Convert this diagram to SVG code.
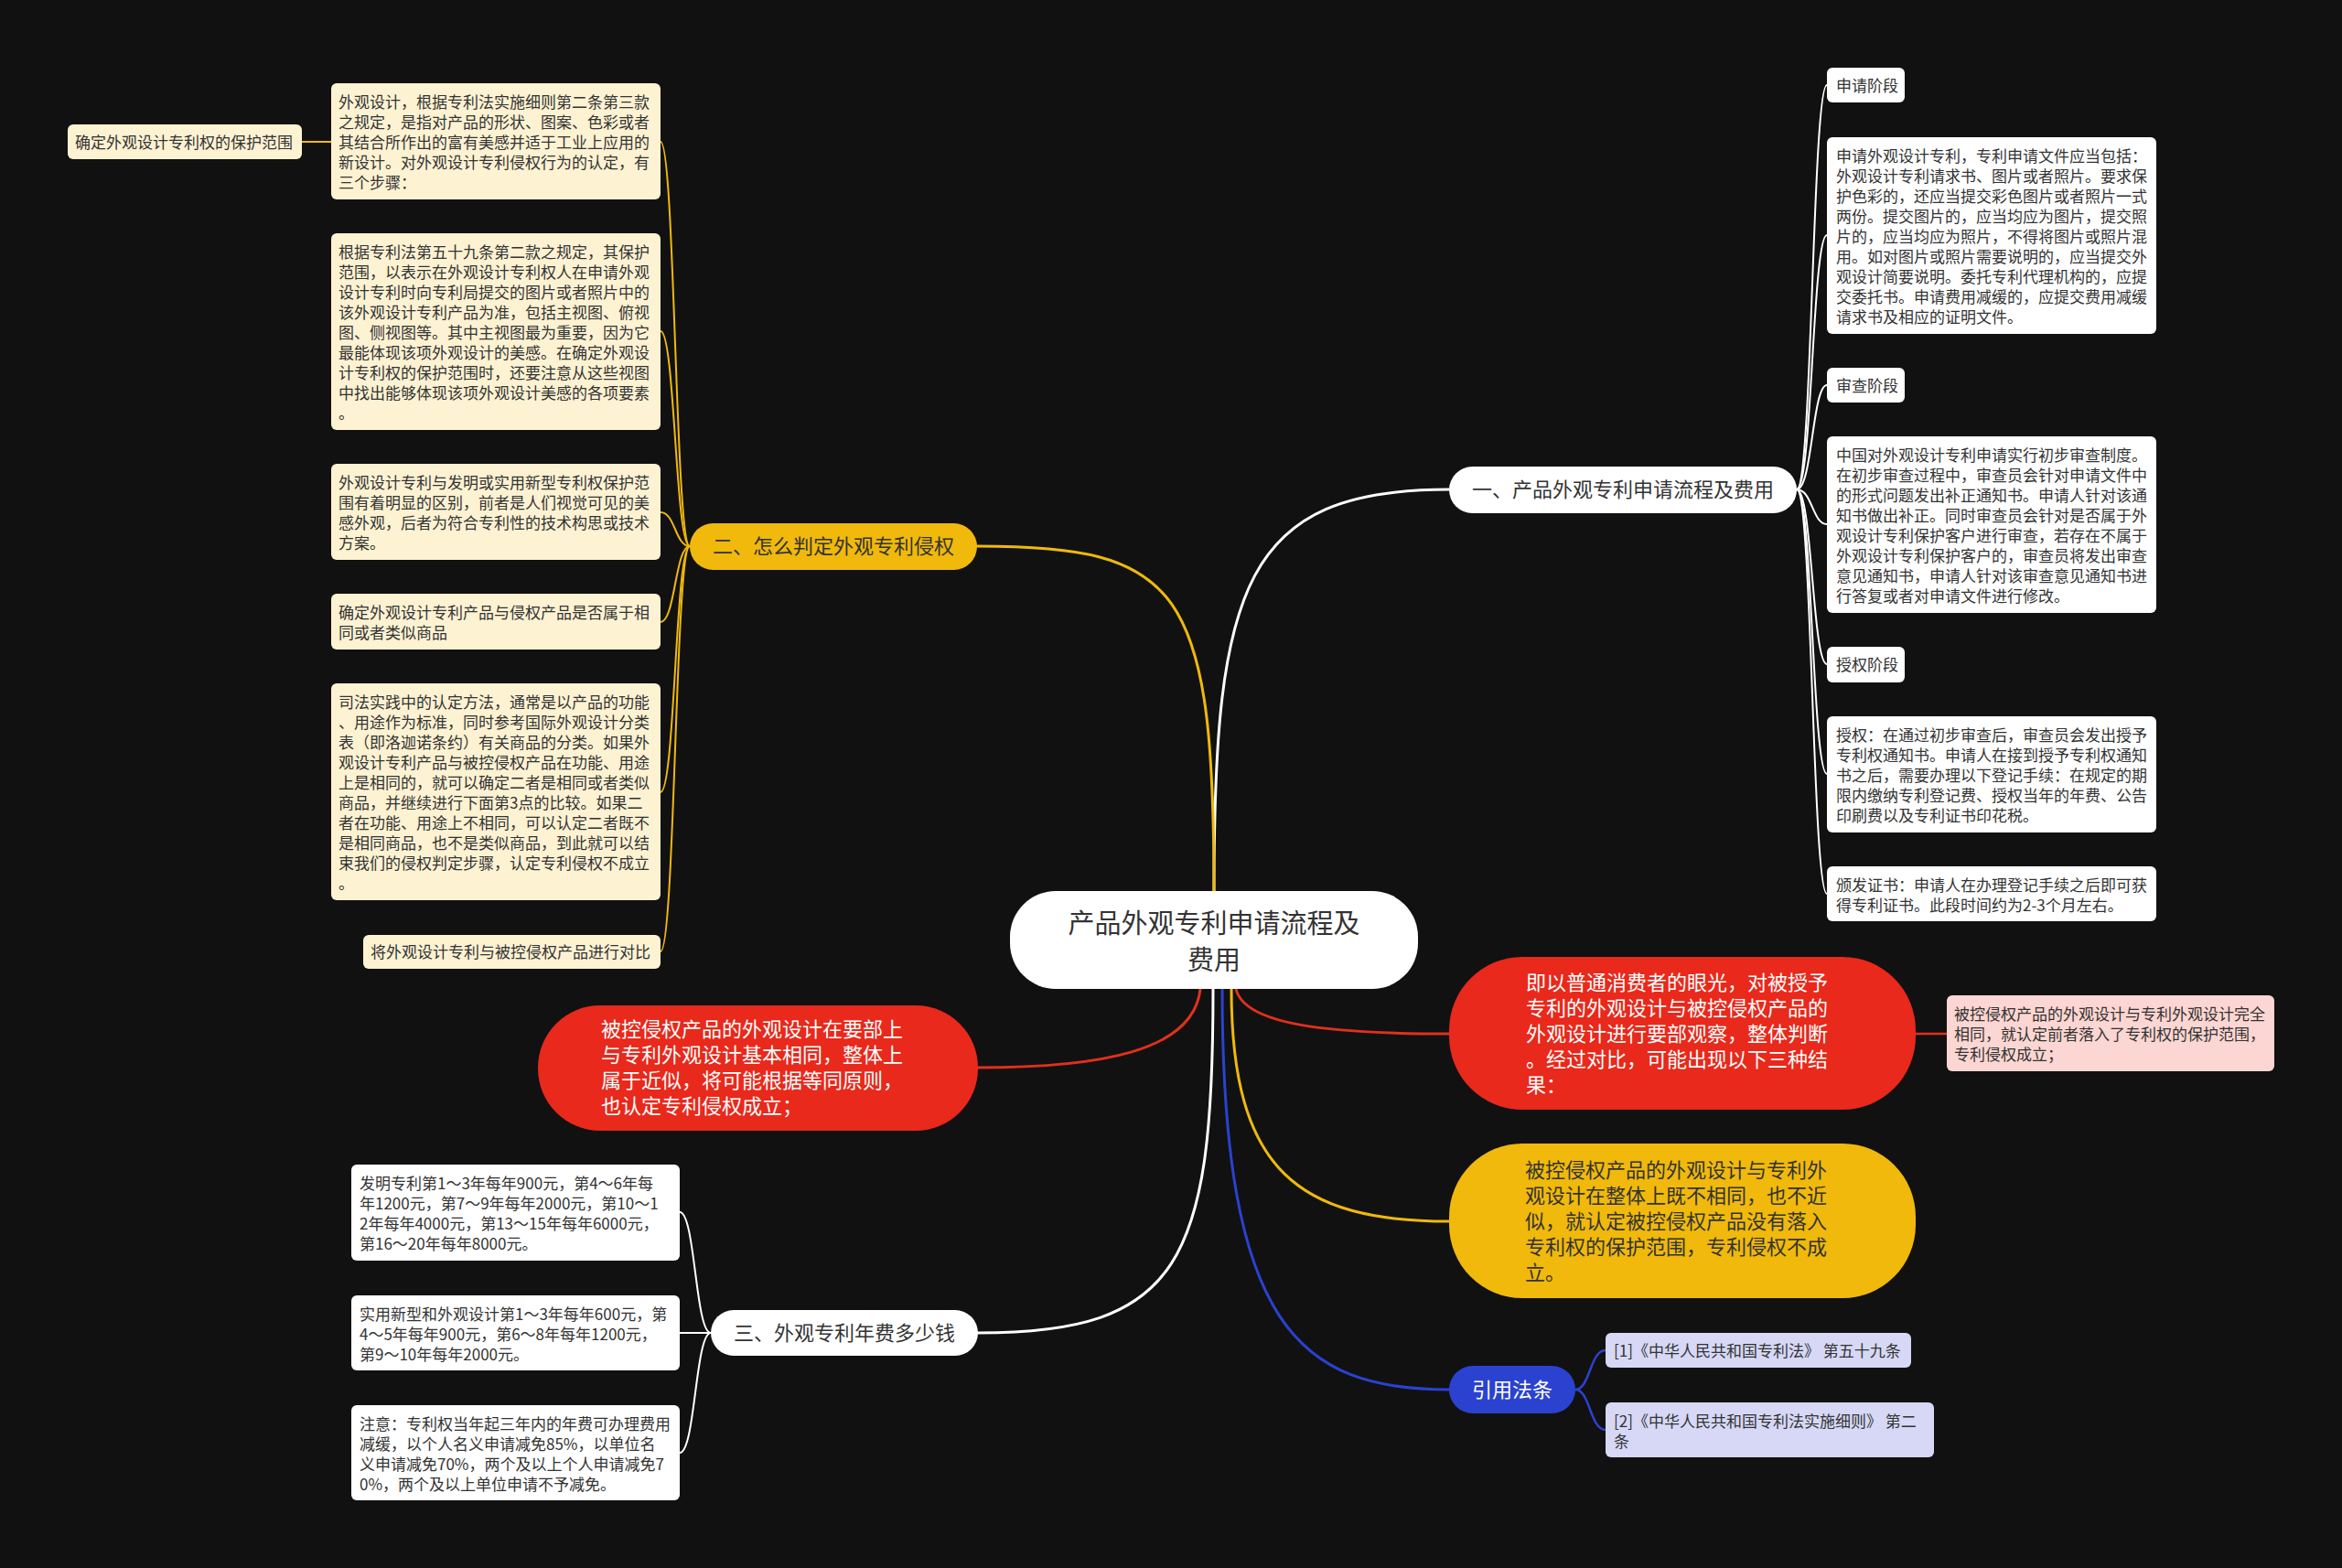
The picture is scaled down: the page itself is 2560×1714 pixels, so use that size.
<svg xmlns="http://www.w3.org/2000/svg" width="2560" height="1714" viewBox="0 0 2560 1714">
<style>
text{font-family:"Noto Sans CJK SC","Noto Sans",sans-serif;}
.t17{font-size:17px;fill:#333333;}
.t22{font-size:22px;fill:#333333;}
.w22{font-size:22px;fill:#ffffff;}
.t30{font-size:29px;fill:#333333;}
.cream{fill:#fdf2d2;}
.white{fill:#ffffff;}
.pink{fill:#fcd6d2;}
.lav{fill:#d6d8f6;}
.c{fill:none;stroke-linecap:round;}
.mw{stroke:#ffffff;stroke-width:3;}
.my{stroke:#f0b90b;stroke-width:3;}
.mr{stroke:#e0301e;stroke-width:3;}
.mb{stroke:#2b42d0;stroke-width:3;}
.lw{stroke:#ffffff;stroke-width:2;}
.ly{stroke:#f0b90b;stroke-width:2;}
.lr{stroke:#e0301e;stroke-width:2.5;}
.lb{stroke:#2b42d0;stroke-width:2.5;}
</style>
<rect x="0" y="0" width="2560" height="1714" fill="#111111"/>

<g id="connectors">
  <path class="c mw" d="M1327,975 C1327,640 1360,535 1584,535"/>
  <path class="c my" d="M1327,975 C1327,640 1290,597 1068,597"/>
  <path class="c mw" d="M1326,1081 C1326,1380 1290,1457 1069,1457"/>
  <path class="c mr" d="M1312,1081 C1305,1150 1200,1167 1069,1167"/>
  <path class="c mr" d="M1351,1081 C1360,1120 1450,1130 1584,1130"/>
  <path class="c my" d="M1346,1081 C1346,1280 1420,1335 1584,1335"/>
  <path class="c mb" d="M1336,1081 C1336,1450 1420,1519 1584,1519"/>
  <path class="c lw" d="M1964,535 C1981,535 1981,93 1997,93"/>
  <path class="c lw" d="M1964,535 C1981,535 1981,257 1997,257"/>
  <path class="c lw" d="M1964,535 C1981,535 1981,421 1997,421"/>
  <path class="c lw" d="M1964,535 C1981,535 1981,573 1997,573"/>
  <path class="c lw" d="M1964,535 C1981,535 1981,726 1997,726"/>
  <path class="c lw" d="M1964,535 C1981,535 1981,846 1997,846"/>
  <path class="c lw" d="M1964,535 C1981,535 1981,977 1997,977"/>
  <path class="c ly" d="M754,597 C738,597 738,155 722,155"/>
  <path class="c ly" d="M754,597 C738,597 738,362 722,362"/>
  <path class="c ly" d="M754,597 C738,597 738,560 722,560"/>
  <path class="c ly" d="M754,597 C738,597 738,680 722,680"/>
  <path class="c ly" d="M754,597 C738,597 738,866 722,866"/>
  <path class="c ly" d="M754,597 C738,597 738,1040 722,1040"/>
  <path class="c ly" d="M362,155 L330,155"/>
  <path class="c lw" d="M777,1457 C760,1457 760,1325 743,1325"/>
  <path class="c lw" d="M777,1457 L743,1457"/>
  <path class="c lw" d="M777,1457 C760,1457 760,1588 743,1588"/>
  <path class="c lb" d="M1722,1519 C1738,1519 1738,1476 1755,1476"/>
  <path class="c lb" d="M1722,1519 C1738,1519 1738,1563 1755,1563"/>
  <path class="c lr" d="M2094,1130 L2128,1130"/>
</g>

<g id="root">
  <rect class="white" x="1104" y="974" width="446" height="107" rx="50"/>
  <text class="t30" text-anchor="middle" x="1327" y="1020">产品外观专利申请流程及</text>
  <text class="t30" text-anchor="middle" x="1327" y="1060">费用</text>
</g>

<g id="branch1">
  <rect class="white" x="1584" y="510" width="380" height="51" rx="25.5"/>
  <text class="t22" text-anchor="middle" x="1774" y="543">一、产品外观专利申请流程及费用</text>
</g>
<g id="b1-s1">
  <rect class="white" x="1997" y="74" width="85" height="38" rx="6"/>
  <text class="t17" x="2007" y="100">申请阶段</text>
</g>
<g id="b1-t1">
  <rect class="white" x="1997" y="150" width="360" height="215" rx="6"/>
  <text class="t17" x="2007" y="177">申请外观设计专利，专利申请文件应当包括：</text>
  <text class="t17" x="2007" y="199">外观设计专利请求书、图片或者照片。要求保</text>
  <text class="t17" x="2007" y="221">护色彩的，还应当提交彩色图片或者照片一式</text>
  <text class="t17" x="2007" y="243">两份。提交图片的，应当均应为图片，提交照</text>
  <text class="t17" x="2007" y="265">片的，应当均应为照片，不得将图片或照片混</text>
  <text class="t17" x="2007" y="287">用。如对图片或照片需要说明的，应当提交外</text>
  <text class="t17" x="2007" y="309">观设计简要说明。委托专利代理机构的，应提</text>
  <text class="t17" x="2007" y="331">交委托书。申请费用减缓的，应提交费用减缓</text>
  <text class="t17" x="2007" y="353">请求书及相应的证明文件。</text>
</g>
<g id="b1-s2">
  <rect class="white" x="1997" y="402" width="85" height="38" rx="6"/>
  <text class="t17" x="2007" y="428">审查阶段</text>
</g>
<g id="b1-t2">
  <rect class="white" x="1997" y="477" width="360" height="193" rx="6"/>
  <text class="t17" x="2007" y="504">中国对外观设计专利申请实行初步审查制度。</text>
  <text class="t17" x="2007" y="526">在初步审查过程中，审查员会针对申请文件中</text>
  <text class="t17" x="2007" y="548">的形式问题发出补正通知书。申请人针对该通</text>
  <text class="t17" x="2007" y="570">知书做出补正。同时审查员会针对是否属于外</text>
  <text class="t17" x="2007" y="592">观设计专利保护客户进行审查，若存在不属于</text>
  <text class="t17" x="2007" y="614">外观设计专利保护客户的，审查员将发出审查</text>
  <text class="t17" x="2007" y="636">意见通知书，申请人针对该审查意见通知书进</text>
  <text class="t17" x="2007" y="658">行答复或者对申请文件进行修改。</text>
</g>
<g id="b1-s3">
  <rect class="white" x="1997" y="707" width="85" height="39" rx="6"/>
  <text class="t17" x="2007" y="733">授权阶段</text>
</g>
<g id="b1-t3">
  <rect class="white" x="1997" y="783" width="360" height="127" rx="6"/>
  <text class="t17" x="2007" y="810">授权：在通过初步审查后，审查员会发出授予</text>
  <text class="t17" x="2007" y="832">专利权通知书。申请人在接到授予专利权通知</text>
  <text class="t17" x="2007" y="854">书之后，需要办理以下登记手续：在规定的期</text>
  <text class="t17" x="2007" y="876">限内缴纳专利登记费、授权当年的年费、公告</text>
  <text class="t17" x="2007" y="898">印刷费以及专利证书印花税。</text>
</g>
<g id="b1-t4">
  <rect class="white" x="1997" y="947" width="360" height="60" rx="6"/>
  <text class="t17" x="2007" y="974">颁发证书：申请人在办理登记手续之后即可获</text>
  <text class="t17" x="2007" y="996">得专利证书。此段时间约为2-3个月左右。</text>
</g>

<g id="branch2">
  <rect x="754" y="572" width="314" height="51" rx="25.5" fill="#f0b90b"/>
  <text class="t22" text-anchor="middle" x="911" y="605">二、怎么判定外观专利侵权</text>
</g>
<g id="b2-leaf0">
  <rect class="cream" x="74" y="136" width="256" height="38" rx="6"/>
  <text class="t17" x="82" y="162">确定外观设计专利权的保护范围</text>
</g>
<g id="b2-a">
  <rect class="cream" x="362" y="91" width="360" height="127" rx="6"/>
  <text class="t17" x="370" y="118">外观设计，根据专利法实施细则第二条第三款</text>
  <text class="t17" x="370" y="140">之规定，是指对产品的形状、图案、色彩或者</text>
  <text class="t17" x="370" y="162">其结合所作出的富有美感并适于工业上应用的</text>
  <text class="t17" x="370" y="184">新设计。对外观设计专利侵权行为的认定，有</text>
  <text class="t17" x="370" y="206">三个步骤：</text>
</g>
<g id="b2-b">
  <rect class="cream" x="362" y="255" width="360" height="215" rx="6"/>
  <text class="t17" x="370" y="282">根据专利法第五十九条第二款之规定，其保护</text>
  <text class="t17" x="370" y="304">范围，以表示在外观设计专利权人在申请外观</text>
  <text class="t17" x="370" y="326">设计专利时向专利局提交的图片或者照片中的</text>
  <text class="t17" x="370" y="348">该外观设计专利产品为准，包括主视图、俯视</text>
  <text class="t17" x="370" y="370">图、侧视图等。其中主视图最为重要，因为它</text>
  <text class="t17" x="370" y="392">最能体现该项外观设计的美感。在确定外观设</text>
  <text class="t17" x="370" y="414">计专利权的保护范围时，还要注意从这些视图</text>
  <text class="t17" x="370" y="436">中找出能够体现该项外观设计美感的各项要素</text>
  <text class="t17" x="370" y="458">。</text>
</g>
<g id="b2-c">
  <rect class="cream" x="362" y="507" width="360" height="105" rx="6"/>
  <text class="t17" x="370" y="534">外观设计专利与发明或实用新型专利权保护范</text>
  <text class="t17" x="370" y="556">围有着明显的区别，前者是人们视觉可见的美</text>
  <text class="t17" x="370" y="578">感外观，后者为符合专利性的技术构思或技术</text>
  <text class="t17" x="370" y="600">方案。</text>
</g>
<g id="b2-d">
  <rect class="cream" x="362" y="649" width="360" height="61" rx="6"/>
  <text class="t17" x="370" y="676">确定外观设计专利产品与侵权产品是否属于相</text>
  <text class="t17" x="370" y="698">同或者类似商品</text>
</g>
<g id="b2-e">
  <rect class="cream" x="362" y="747" width="360" height="237" rx="6"/>
  <text class="t17" x="370" y="774">司法实践中的认定方法，通常是以产品的功能</text>
  <text class="t17" x="370" y="796">、用途作为标准，同时参考国际外观设计分类</text>
  <text class="t17" x="370" y="818">表（即洛迦诺条约）有关商品的分类。如果外</text>
  <text class="t17" x="370" y="840">观设计专利产品与被控侵权产品在功能、用途</text>
  <text class="t17" x="370" y="862">上是相同的，就可以确定二者是相同或者类似</text>
  <text class="t17" x="370" y="884">商品，并继续进行下面第3点的比较。如果二</text>
  <text class="t17" x="370" y="906">者在功能、用途上不相同，可以认定二者既不</text>
  <text class="t17" x="370" y="928">是相同商品，也不是类似商品，到此就可以结</text>
  <text class="t17" x="370" y="950">束我们的侵权判定步骤，认定专利侵权不成立</text>
  <text class="t17" x="370" y="972">。</text>
</g>
<g id="b2-f">
  <rect class="cream" x="397" y="1022" width="325" height="37" rx="6"/>
  <text class="t17" x="405" y="1047">将外观设计专利与被控侵权产品进行对比</text>
</g>

<g id="red-left">
  <rect x="588" y="1099" width="481" height="137" rx="68" fill="#e8291b"/>
  <text class="w22" x="657" y="1133">被控侵权产品的外观设计在要部上</text>
  <text class="w22" x="657" y="1161">与专利外观设计基本相同，整体上</text>
  <text class="w22" x="657" y="1189">属于近似，将可能根据等同原则，</text>
  <text class="w22" x="657" y="1217">也认定专利侵权成立；</text>
</g>

<g id="red-right">
  <rect x="1584" y="1046" width="510" height="167" rx="80" fill="#e8291b"/>
  <text class="w22" x="1668" y="1082">即以普通消费者的眼光，对被授予</text>
  <text class="w22" x="1668" y="1110">专利的外观设计与被控侵权产品的</text>
  <text class="w22" x="1668" y="1138">外观设计进行要部观察，整体判断</text>
  <text class="w22" x="1668" y="1166">。经过对比，可能出现以下三种结</text>
  <text class="w22" x="1668" y="1194">果：</text>
</g>
<g id="pink">
  <rect class="pink" x="2128" y="1088" width="358" height="83" rx="6"/>
  <text class="t17" x="2136" y="1115">被控侵权产品的外观设计与专利外观设计完全</text>
  <text class="t17" x="2136" y="1137">相同，就认定前者落入了专利权的保护范围，</text>
  <text class="t17" x="2136" y="1159">专利侵权成立；</text>
</g>

<g id="yellow-right">
  <rect x="1584" y="1250" width="510" height="169" rx="80" fill="#f0b90b"/>
  <text class="t22" x="1667" y="1287">被控侵权产品的外观设计与专利外</text>
  <text class="t22" x="1667" y="1315">观设计在整体上既不相同，也不近</text>
  <text class="t22" x="1667" y="1343">似，就认定被控侵权产品没有落入</text>
  <text class="t22" x="1667" y="1371">专利权的保护范围，专利侵权不成</text>
  <text class="t22" x="1667" y="1399">立。</text>
</g>

<g id="branch3">
  <rect class="white" x="777" y="1432" width="292" height="50" rx="25"/>
  <text class="t22" text-anchor="middle" x="923" y="1465">三、外观专利年费多少钱</text>
</g>
<g id="b3-g">
  <rect class="white" x="384" y="1273" width="359" height="105" rx="6"/>
  <text class="t17" x="393" y="1300">发明专利第1～3年每年900元，第4～6年每</text>
  <text class="t17" x="393" y="1322">年1200元，第7～9年每年2000元，第10～1</text>
  <text class="t17" x="393" y="1344">2年每年4000元，第13～15年每年6000元，</text>
  <text class="t17" x="393" y="1366">第16～20年每年8000元。</text>
</g>
<g id="b3-h">
  <rect class="white" x="384" y="1416" width="359" height="82" rx="6"/>
  <text class="t17" x="393" y="1443">实用新型和外观设计第1～3年每年600元，第</text>
  <text class="t17" x="393" y="1465">4～5年每年900元，第6～8年每年1200元，</text>
  <text class="t17" x="393" y="1487">第9～10年每年2000元。</text>
</g>
<g id="b3-i">
  <rect class="white" x="384" y="1536" width="359" height="104" rx="6"/>
  <text class="t17" x="393" y="1563">注意：专利权当年起三年内的年费可办理费用</text>
  <text class="t17" x="393" y="1585">减缓，以个人名义申请减免85%，以单位名</text>
  <text class="t17" x="393" y="1607">义申请减免70%，两个及以上个人申请减免7</text>
  <text class="t17" x="393" y="1629">0%，两个及以上单位申请不予减免。</text>
</g>

<g id="cite">
  <rect x="1584" y="1493" width="138" height="52" rx="26" fill="#2b42d0"/>
  <text class="w22" text-anchor="middle" x="1653" y="1527">引用法条</text>
</g>
<g id="cite-1">
  <rect class="lav" x="1755" y="1457" width="334" height="38" rx="6"/>
  <text class="t17" x="1764" y="1483">[1]《中华人民共和国专利法》 第五十九条</text>
</g>
<g id="cite-2">
  <rect class="lav" x="1755" y="1533" width="359" height="60" rx="6"/>
  <text class="t17" x="1764" y="1560">[2]《中华人民共和国专利法实施细则》 第二</text>
  <text class="t17" x="1764" y="1582">条</text>
</g>
</svg>
